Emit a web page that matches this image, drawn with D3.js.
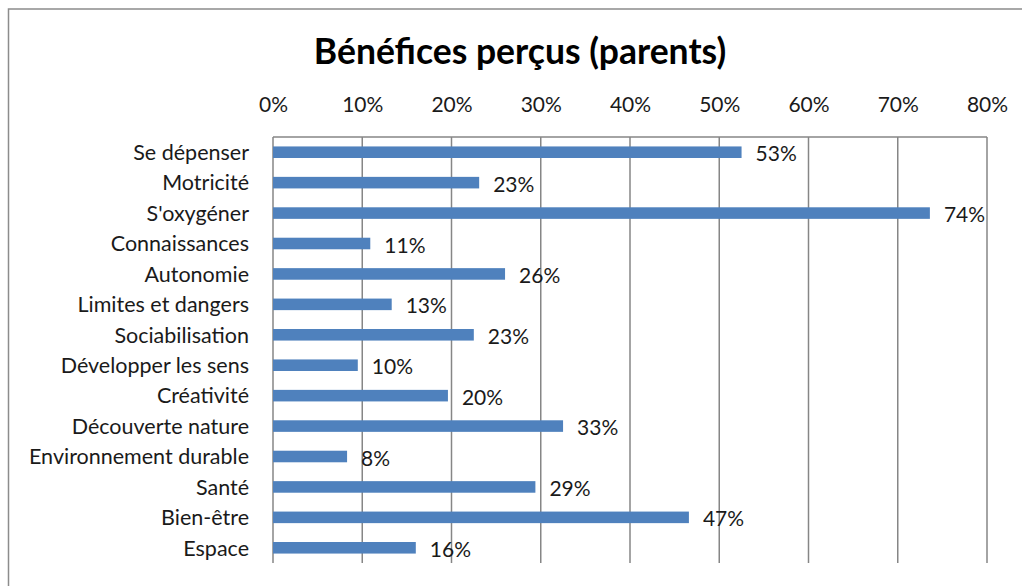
<!DOCTYPE html>
<html>
<head>
<meta charset="utf-8">
<script src="https://cdn.jsdelivr.net/npm/d3@7"></script>
<style>
  body { margin: 0; background: #fff; }
  svg { display: block; font-family: Lato, "Open Sans", sans-serif; }
</style>
</head>
<body>
<svg id="svg" width="1022" height="586"></svg>
<script>
// data (percent)
var categories = ['Se dépenser', 'Motricité', "S'oxygéner", 'Connaissances', 'Autonomie',
    'Limites et dangers', 'Sociabilisation', 'Développer les sens', 'Créativité',
    'Découverte nature', 'Environnement durable', 'Santé', 'Bien-être', 'Espace'];
var values = [52.5, 23.1, 73.6, 10.9, 26.0, 13.3, 22.5, 9.5, 19.6, 32.5, 8.3, 29.4, 46.6, 16.0];
var tickValues = [0, 10, 20, 30, 40, 50, 60, 70, 80];

var data = categories.map(function (c, i) { return { name: c, value: values[i] }; });

var svg = d3.select('svg');

var plotLeft = 273, plotRight = 987, plotTop = 137, plotBottom = 563;

// chart border
svg.append('rect')
    .attr('x', 8.5)
    .attr('y', 9)
    .attr('width', 1040)
    .attr('height', 600)
    .attr('fill', 'none')
    .attr('stroke', '#8c8c8c')
    .attr('stroke-width', 1.5);

var x = d3.scaleLinear()
    .domain([0, 80])
    .range([plotLeft, plotRight]);

var y = d3.scaleBand()
    .domain(categories)
    .range([plotTop, plotBottom])
    .paddingInner(0.62)
    .paddingOuter(0.31);

// title
svg.append('text')
    .text('Bénéfices perçus (parents)')
    .attr('x', 520)
    .attr('y', 64)
    .attr('text-anchor', 'middle')
    .attr('font-weight', 'bold')
    .attr('font-size', 35.5)
    .attr('fill', '#000');

// vertical gridlines
svg.append('g')
    .selectAll('line')
    .data(tickValues)
    .enter()
    .append('line')
    .attr('x1', function (d) { return x(d); })
    .attr('x2', function (d) { return x(d); })
    .attr('y1', plotTop)
    .attr('y2', plotBottom)
    .attr('stroke', '#868686')
    .attr('stroke-width', 1.5);

// top line of the plot area
svg.append('line')
    .attr('x1', plotLeft)
    .attr('x2', plotRight)
    .attr('y1', plotTop)
    .attr('y2', plotTop)
    .attr('stroke', '#868686')
    .attr('stroke-width', 1.5);

// top axis labels
var xAxis = d3.axisTop(x)
    .tickValues(tickValues)
    .tickSize(0)
    .tickPadding(0)
    .tickFormat(function (d) { return d + '%'; });

svg.append('g')
    .attr('transform', 'translate(0,112)')
    .call(xAxis)
    .call(function (g) { g.select('.domain').remove(); })
    .selectAll('text')
    .attr('font-family', 'Lato, "Open Sans", sans-serif')
    .attr('font-size', 21)
    .attr('fill', '#1a1a1a')
    .attr('dy', 0);

// category labels
var yAxis = d3.axisLeft(y)
    .tickSize(0)
    .tickPadding(24);

svg.append('g')
    .attr('transform', 'translate(' + plotLeft + ',0)')
    .call(yAxis)
    .call(function (g) { g.select('.domain').remove(); })
    .selectAll('text')
    .attr('font-family', 'Lato, "Open Sans", sans-serif')
    .attr('font-size', 21.5)
    .attr('fill', '#1a1a1a')
    .attr('dy', '0.36em');

// bars
svg.append('g')
    .selectAll('rect')
    .data(data)
    .enter()
    .append('rect')
    .attr('x', x(0))
    .attr('y', function (d) { return y(d.name); })
    .attr('width', function (d) { return x(d.value) - x(0); })
    .attr('height', y.bandwidth())
    .attr('fill', '#4f81bd');

// data labels
svg.append('g')
    .selectAll('text')
    .data(data)
    .enter()
    .append('text')
    .text(function (d) { return Math.round(d.value) + '%'; })
    .attr('x', function (d) { return x(d.value) + 14; })
    .attr('y', function (d) { return y(d.name) + y.bandwidth() / 2 + 9; })
    .attr('font-size', 21)
    .attr('fill', '#1a1a1a');
</script>
</body>
</html>
